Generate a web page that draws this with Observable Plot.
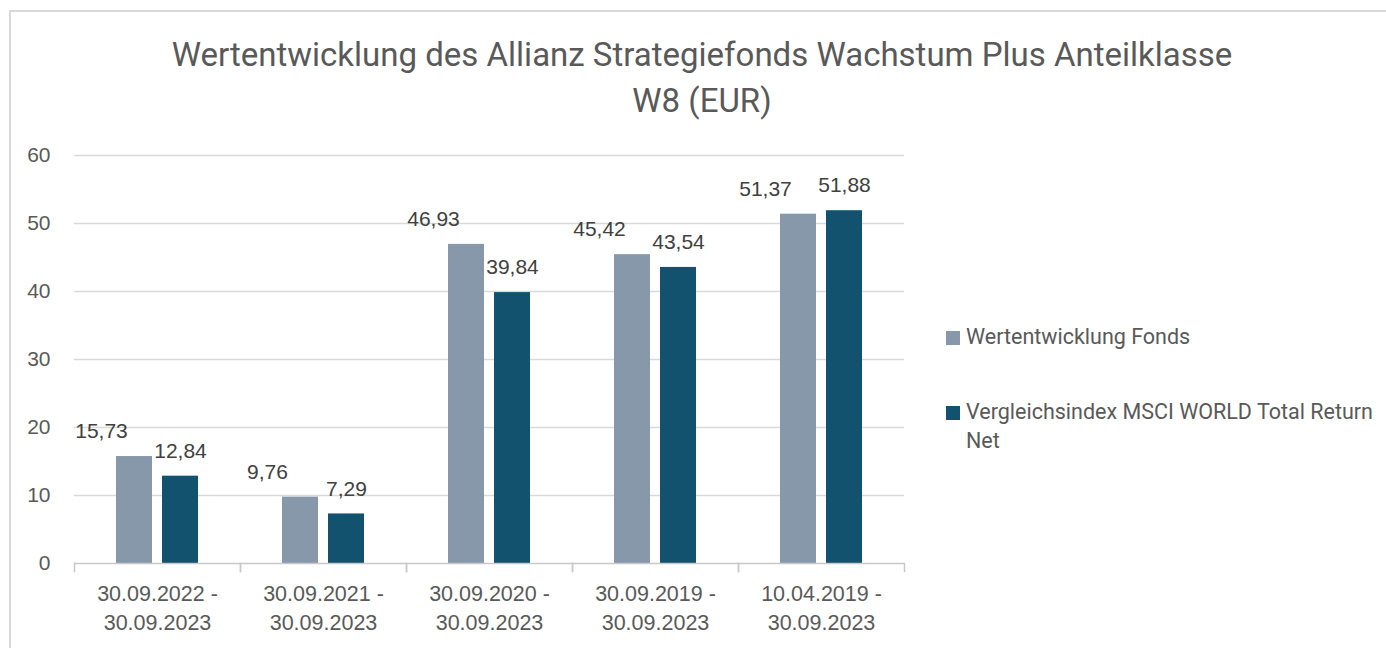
<!DOCTYPE html>
<html><head><meta charset="utf-8">
<script src="https://cdn.jsdelivr.net/npm/d3@7"></script>
<script src="https://cdn.jsdelivr.net/npm/@observablehq/plot@0.6"></script>
<style>
body{margin:0;background:#fff;}
#page{position:relative;width:1386px;height:648px;overflow:hidden;background:#fff;}
#border{position:absolute;left:9px;top:10px;width:1400px;height:700px;border:2px solid #d9d9d9;box-sizing:border-box;}
#title{position:absolute;left:9px;width:1386px;top:32px;text-align:center;font-family:Roboto;font-size:33px;color:#595959;line-height:46px;}
#chart{position:absolute;left:0;top:140px;}
#legend{position:absolute;left:946px;top:322px;font-family:Roboto;font-size:21.5px;color:#595959;line-height:29px;}
.item{display:flex;align-items:flex-start;margin-bottom:46px;}
.sw{width:14px;height:14px;margin-top:9px;margin-right:6px;flex:none;}
.lbl{max-width:420px;}
</style></head>
<body><div id="page"><div id="border"></div>
<div id="title">Wertentwicklung des Allianz Strategiefonds Wachstum Plus Anteilklasse<br>W8 (EUR)</div>
<div id="chart"></div><div id="legend"></div></div>
<script>
const categories = ["30.09.2022 - 30.09.2023", "30.09.2021 - 30.09.2023", "30.09.2020 - 30.09.2023", "30.09.2019 - 30.09.2023", "10.04.2019 - 30.09.2023"];
const series = ["Wertentwicklung Fonds", "Vergleichsindex MSCI WORLD Total Return Net"];
const fondsValues = [15.73, 9.76, 46.93, 45.42, 51.37];
const indexValues = [12.84, 7.29, 39.84, 43.54, 51.88];
const colors = ["#8698aa", "#12526f"];
const yTicks = [0, 10, 20, 30, 40, 50, 60];

const data = categories.flatMap((c, i) => [
  {cat: c, series: series[0], value: fondsValues[i]},
  {cat: c, series: series[1], value: indexValues[i]}
]);
const fmt = v => v.toFixed(2).replace(".", ",");

const chart = Plot.plot({
  width: 910, height: 508, marginTop: 15, marginBottom: 85, marginLeft: 73, marginRight: 6,
  style: {fontFamily: "Liberation Sans", fontSize: "20px", color: "#595959", background: "transparent", overflow: "visible"},
  fx: {domain: categories, paddingInner: 0, paddingOuter: 0, label: null, axis: null},
  x: {domain: series, paddingInner: 0.213, paddingOuter: 0.874, axis: null},
  y: {domain: [0, 60], label: null},
  color: {domain: series, range: colors},
  marks: [
    Plot.ruleY(yTicks.filter(d => d > 0), {stroke: "#d9d9d9", strokeWidth: 1.5}),
    Plot.barY(data, {fx: "cat", x: "series", y: "value", fill: "series"}),
    Plot.ruleY([0], {stroke: "#c8c8c8", strokeWidth: 1.5}),
    Plot.frame({anchor: "left", stroke: "#c8c8c8", strokeWidth: 1.5, insetTop: 408, insetBottom: -8}),
    Plot.frame({anchor: "right", stroke: "#c8c8c8", strokeWidth: 1.5, insetTop: 408, insetBottom: -8}),
    Plot.text(data, {filter: d => d.series === series[0], fx: "cat", x: "series", y: "value", text: d => fmt(d.value), dy: -25, dx: -33, fill: "#404040", fontSize: 21}),
    Plot.text(data, {filter: d => d.series === series[1], fx: "cat", x: "series", y: "value", text: d => fmt(d.value), dy: -25, fill: "#404040", fontSize: 21}),
    Plot.axisY({ticks: yTicks, tickSize: 0, tickPadding: 24, label: null, fontSize: 21}),
    Plot.axisFx({anchor: "bottom", tickSize: 0, tickPadding: 17, label: null, fontSize: 21.5, lineHeight: 1.35, tickFormat: d => d.replace(" - ", " -\n")})
  ]
});
document.getElementById("chart").appendChild(chart);

const legend = document.getElementById("legend");
series.forEach((s, i) => {
  const item = document.createElement("div");
  item.className = "item";
  const sw = document.createElement("div");
  sw.className = "sw";
  sw.style.background = colors[i];
  const lbl = document.createElement("div");
  lbl.className = "lbl";
  lbl.textContent = s;
  item.appendChild(sw); item.appendChild(lbl);
  legend.appendChild(item);
});
</script></body></html>
